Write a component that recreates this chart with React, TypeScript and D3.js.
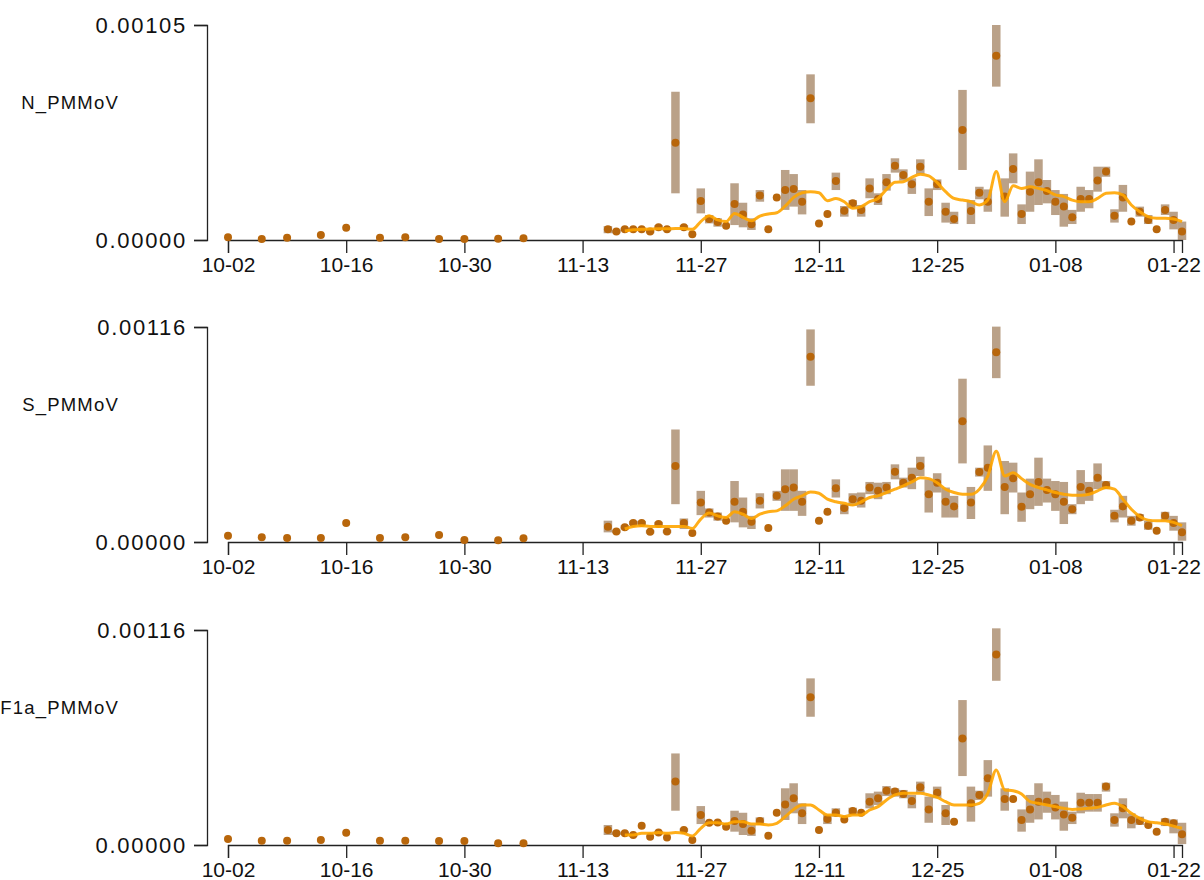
import React, { useEffect, useRef } from "react";
import * as d3 from "d3";

// ---------- data ----------
const earlyDates = ["2020-10-02","2020-10-06","2020-10-09","2020-10-13","2020-10-16","2020-10-20","2020-10-23","2020-10-27","2020-10-30","2020-11-03","2020-11-06"];
const denseStart = "2020-11-16";
const denseEnd = "2021-01-24"; // exclusive
const domainStart = "2020-10-02";
const domainEnd = "2021-01-23";

const panelLabels = ["N_PMMoV", "S_PMMoV", "F1a_PMMoV"];
const yMaxes = [0.00105, 0.00116, 0.00116];

const nEarly = [1.3e-5, 5e-6, 1.1e-5, 2.4e-5, 6.0e-5, 1.1e-5, 1.3e-5, 5e-6, 5e-6, 6e-6, 8e-6];
const sEarly = [3.4e-5, 2.5e-5, 2.1e-5, 2.1e-5, 1.02e-4, 2.1e-5, 2.5e-5, 3.8e-5, 1.1e-5, 1e-5, 2e-5];
const fEarly = [3.2e-5, 2.3e-5, 2.3e-5, 2.7e-5, 6.6e-5, 2.3e-5, 2.3e-5, 2.1e-5, 2.1e-5, 1e-5, 1e-5];

const nValues = [5.2e-5, 4.1e-5, 5.2e-5, 5.2e-5, 5.2e-5, 4.1e-5, 6.2e-5, 5.2e-5, 4.75e-4, 6.2e-5,
 2.8e-5, 1.9e-4, 1.03e-4, 8.8e-5, 7.0e-5, 1.76e-4, 1.25e-4, 7.7e-5, 2.17e-4, 5.2e-5,
 2.08e-4, 2.44e-4, 2.49e-4, 1.87e-4, 6.92e-4, 8.1e-5, 1.27e-4, 2.88e-4, 1.43e-4, 1.79e-4,
 1.47e-4, 2.52e-4, 2.0e-4, 2.82e-4, 3.63e-4, 3.17e-4, 2.72e-4, 3.58e-4, 1.87e-4, 2.72e-4,
 1.38e-4, 1.03e-4, 5.37e-4, 1.42e-4, 2.31e-4, 1.87e-4, 9.0e-4, 2.12e-4, 3.47e-4, 1.27e-4,
 2.36e-4, 2.82e-4, 2.39e-4, 1.87e-4, 1.63e-4, 1.11e-4, 2.0e-4, 2.0e-4, 2.9e-4, 3.34e-4,
 1.19e-4, 2.07e-4, 9.0e-5, 1.38e-4, 9.8e-5, 5.2e-5, 1.47e-4, 9.8e-5, 4.1e-5];
const nLo = [3.3e-5, 3.3e-5, 4.4e-5, 4.4e-5, 4.4e-5, 3.3e-5, 5.2e-5, 4.4e-5, 2.28e-4, 5.2e-5,
 2.8e-5, 1.30e-4, 8.1e-5, 6.5e-5, 7.0e-5, 7.3e-5, 6.2e-5, 4.9e-5, 1.87e-4, 5.2e-5,
 2.08e-4, 1.47e-4, 1.63e-4, 1.25e-4, 5.70e-4, 8.1e-5, 1.27e-4, 2.44e-4, 1.14e-4, 1.55e-4,
 1.14e-4, 2.04e-4, 1.71e-4, 2.41e-4, 3.29e-4, 2.9e-4, 2.25e-4, 3.22e-4, 1.17e-4, 2.44e-4,
 8.5e-5, 7.8e-5, 3.42e-4, 7.8e-5, 1.99e-4, 1.38e-4, 7.49e-4, 1.14e-4, 2.77e-4, 7.8e-5,
 1.38e-4, 1.71e-4, 1.79e-4, 1.22e-4, 6.5e-5, 7.8e-5, 1.38e-4, 1.55e-4, 2.36e-4, 3.09e-4,
 8.5e-5, 1.38e-4, 9.0e-5, 1.14e-4, 7.8e-5, 5.2e-5, 1.22e-4, 5.2e-5, 0];
const nHi = [6.8e-5, 4.9e-5, 6.0e-5, 6.0e-5, 6.0e-5, 4.9e-5, 7.2e-5, 6.0e-5, 7.24e-4, 7.2e-5,
 2.8e-5, 2.52e-4, 1.22e-4, 1.06e-4, 7.0e-5, 2.77e-4, 1.82e-4, 1.06e-4, 2.44e-4, 5.2e-5,
 2.08e-4, 3.42e-4, 3.22e-4, 2.44e-4, 8.09e-4, 8.1e-5, 1.27e-4, 3.29e-4, 1.66e-4, 1.95e-4,
 1.71e-4, 3.01e-4, 2.28e-4, 3.22e-4, 3.99e-4, 3.45e-4, 3.01e-4, 3.94e-4, 2.52e-4, 2.96e-4,
 1.82e-4, 1.38e-4, 7.33e-4, 1.95e-4, 2.6e-4, 2.47e-4, 1.05e-3, 3.01e-4, 4.23e-4, 1.74e-4,
 3.34e-4, 3.94e-4, 2.93e-4, 2.44e-4, 2.25e-4, 1.47e-4, 2.6e-4, 2.44e-4, 3.58e-4, 3.58e-4,
 1.5e-4, 2.69e-4, 9.0e-5, 1.63e-4, 1.22e-4, 5.2e-5, 1.74e-4, 1.38e-4, 9.0e-5];
const nSmooth = [null, null, 4.4e-5, 5.0e-5, 5.2e-5, 5.4e-5, 5.5e-5, 5.5e-5, 5.6e-5, 5.6e-5,
 5.2e-5, 9.0e-5, 1.19e-4, 9.8e-5, 9.0e-5, 1.30e-4, 1.11e-4, 9.4e-5, 1.17e-4, 1.27e-4,
 1.33e-4, 1.66e-4, 2.08e-4, 2.31e-4, 2.36e-4, 2.31e-4, 1.92e-4, 2.03e-4, 1.87e-4, 1.55e-4,
 1.63e-4, 1.87e-4, 2.03e-4, 2.47e-4, 2.82e-4, 2.85e-4, 3.06e-4, 3.21e-4, 3.13e-4, 2.8e-4,
 2.36e-4, 2.03e-4, 1.95e-4, 1.87e-4, 1.71e-4, 1.95e-4, 3.34e-4, 1.87e-4, 2.65e-4, 2.52e-4,
 2.6e-4, 2.52e-4, 2.41e-4, 2.2e-4, 2.12e-4, 1.95e-4, 1.87e-4, 1.87e-4, 2.03e-4, 2.28e-4,
 2.31e-4, 2.2e-4, 1.71e-4, 1.38e-4, 1.14e-4, 1.06e-4, 1.06e-4, 1.03e-4, 9.0e-5];

const sValues = [8.2e-5, 5.7e-5, 7.9e-5, 1.02e-4, 1.02e-4, 5.5e-5, 9.7e-5, 5.7e-5, 4.10e-4, 1.02e-4,
 4.8e-5, 2.13e-4, 1.59e-4, 1.38e-4, 1.15e-4, 2.17e-4, 1.63e-4, 1.09e-4, 2.22e-4, 7.5e-5,
 2.49e-4, 2.85e-4, 2.94e-4, 2.17e-4, 1.0e-3, 1.15e-4, 1.63e-4, 2.9e-4, 1.83e-4, 2.31e-4,
 2.22e-4, 2.94e-4, 2.76e-4, 2.94e-4, 3.79e-4, 3.2e-4, 3.47e-4, 4.1e-4, 2.58e-4, 3.2e-4,
 2.17e-4, 1.92e-4, 6.52e-4, 2.13e-4, 3.78e-4, 4.01e-4, 1.024e-3, 2.97e-4, 3.44e-4, 1.9e-4,
 2.58e-4, 3.24e-4, 2.81e-4, 2.58e-4, 2.17e-4, 1.77e-4, 2.97e-4, 2.76e-4, 3.47e-4, 3.08e-4,
 1.41e-4, 1.92e-4, 1.15e-4, 1.32e-4, 8.8e-5, 6.1e-5, 1.41e-4, 1.02e-4, 5.2e-5];
const sLo = [5.2e-5, 4.8e-5, 6.8e-5, 9.0e-5, 9.0e-5, 4.6e-5, 8.5e-5, 4.8e-5, 2.04e-4, 7.0e-5,
 4.8e-5, 1.45e-4, 1.32e-4, 1.15e-4, 1.15e-4, 1.06e-4, 7.9e-5, 7.0e-5, 1.81e-4, 7.5e-5,
 2.22e-4, 1.68e-4, 1.68e-4, 1.41e-4, 8.43e-4, 1.15e-4, 1.63e-4, 2.4e-4, 1.5e-4, 1.95e-4,
 1.86e-4, 2.58e-4, 2.31e-4, 2.58e-4, 3.38e-4, 2.94e-4, 2.85e-4, 3.56e-4, 1.59e-4, 2.67e-4,
 1.32e-4, 1.32e-4, 4.24e-4, 1.24e-4, 3.53e-4, 2.76e-4, 8.84e-4, 1.5e-4, 2.67e-4, 1.09e-4,
 1.77e-4, 1.95e-4, 2.13e-4, 1.68e-4, 9.7e-5, 1.5e-4, 2.04e-4, 2.22e-4, 2.85e-4, 2.85e-4,
 1.06e-4, 1.32e-4, 8.8e-5, 1.15e-4, 6.6e-5, 6.1e-5, 1.15e-4, 6.1e-5, 7e-6];
const sHi = [1.15e-4, 6.6e-5, 9.0e-5, 1.14e-4, 1.14e-4, 6.4e-5, 1.09e-4, 6.6e-5, 6.07e-4, 1.27e-4,
 4.8e-5, 2.76e-4, 1.81e-4, 1.59e-4, 1.15e-4, 3.29e-4, 2.4e-4, 1.41e-4, 2.63e-4, 7.5e-5,
 2.76e-4, 3.92e-4, 3.92e-4, 2.76e-4, 1.147e-3, 1.15e-4, 1.63e-4, 3.38e-4, 2.04e-4, 2.63e-4,
 2.67e-4, 3.24e-4, 3.2e-4, 3.24e-4, 4.19e-4, 3.47e-4, 4.01e-4, 4.6e-4, 3.38e-4, 3.71e-4,
 2.94e-4, 2.49e-4, 8.81e-4, 2.97e-4, 4.01e-4, 5.21e-4, 1.162e-3, 4.37e-4, 4.28e-4, 2.67e-4,
 3.42e-4, 4.55e-4, 3.42e-4, 3.29e-4, 3.24e-4, 2.04e-4, 3.88e-4, 3.24e-4, 4.24e-4, 3.29e-4,
 1.74e-4, 2.49e-4, 1.41e-4, 1.5e-4, 1.15e-4, 6.1e-5, 1.63e-4, 1.41e-4, 1.06e-4];
const sSmooth = [null, null, 7.0e-5, 8.4e-5, 8.8e-5, 8.4e-5, 8.4e-5, 8.4e-5, 8.4e-5, 8.4e-5,
 7.3e-5, 1.24e-4, 1.56e-4, 1.41e-4, 1.32e-4, 1.63e-4, 1.5e-4, 1.27e-4, 1.5e-4, 1.63e-4,
 1.68e-4, 1.95e-4, 2.31e-4, 2.49e-4, 2.7e-4, 2.63e-4, 2.31e-4, 2.17e-4, 2.09e-4, 1.99e-4,
 2.17e-4, 2.4e-4, 2.49e-4, 2.67e-4, 2.85e-4, 3.03e-4, 3.24e-4, 3.47e-4, 3.42e-4, 3.2e-4,
 2.85e-4, 2.67e-4, 2.58e-4, 2.58e-4, 2.85e-4, 3.56e-4, 4.9e-4, 3.56e-4, 3.74e-4, 3.42e-4,
 3.11e-4, 2.94e-4, 2.81e-4, 2.67e-4, 2.58e-4, 2.52e-4, 2.52e-4, 2.58e-4, 2.76e-4, 2.94e-4,
 2.85e-4, 2.31e-4, 1.77e-4, 1.38e-4, 1.18e-4, 1.15e-4, 1.15e-4, 1.06e-4, 8.8e-5];

const fValues = [8.1e-5, 6.3e-5, 6.3e-5, 5.4e-5, 1.04e-4, 4.5e-5, 6.7e-5, 4.0e-5, 3.42e-4, 8.1e-5,
 2.7e-5, 1.62e-4, 1.2e-4, 1.22e-4, 9.9e-5, 1.29e-4, 1.13e-4, 7.7e-5, 1.29e-4, 5.0e-5,
 1.74e-4, 2.19e-4, 2.52e-4, 1.71e-4, 7.97e-4, 8.1e-5, 1.4e-4, 1.74e-4, 1.38e-4, 1.83e-4,
 1.74e-4, 2.34e-4, 2.52e-4, 2.93e-4, 2.88e-4, 2.75e-4, 2.37e-4, 3.11e-4, 1.92e-4, 2.82e-4,
 1.71e-4, 1.26e-4, 5.75e-4, 2.25e-4, 2.7e-4, 3.6e-4, 1.028e-3, 2.48e-4, 2.48e-4, 1.35e-4,
 1.92e-4, 2.34e-4, 2.34e-4, 2.03e-4, 1.65e-4, 1.47e-4, 2.28e-4, 2.28e-4, 2.28e-4, 3.15e-4,
 1.35e-4, 1.98e-4, 1.35e-4, 1.29e-4, 1.08e-4, 7.2e-5, 1.26e-4, 1.17e-4, 5.8e-5];
const fLo = [5.4e-5, 5.4e-5, 5.4e-5, 4.5e-5, 1.04e-4, 4.5e-5, 5.8e-5, 4.0e-5, 1.85e-4, 7.2e-5,
 2.7e-5, 1.13e-4, 1.1e-4, 1.1e-4, 9.9e-5, 7.2e-5, 5.4e-5, 4.9e-5, 1.08e-4, 5.0e-5,
 1.74e-4, 1.35e-4, 1.71e-4, 1.13e-4, 6.92e-4, 8.1e-5, 1.13e-4, 1.53e-4, 1.38e-4, 1.62e-4,
 1.74e-4, 1.98e-4, 2.16e-4, 2.64e-4, 2.61e-4, 2.52e-4, 1.98e-4, 2.79e-4, 1.2e-4, 2.52e-4,
 1.08e-4, 1.26e-4, 3.72e-4, 1.26e-4, 2.43e-4, 2.61e-4, 8.86e-4, 1.85e-4, 2.48e-4, 7.2e-5,
 1.2e-4, 1.38e-4, 1.74e-4, 1.38e-4, 7.7e-5, 1.13e-4, 1.71e-4, 1.8e-4, 1.8e-4, 2.88e-4,
 9.9e-5, 1.44e-4, 9.0e-5, 1.08e-4, 1.08e-4, 7.2e-5, 1.02e-4, 6.3e-5, 5e-6];
const fHi = [1.08e-4, 7.2e-5, 7.2e-5, 6.3e-5, 1.04e-4, 4.5e-5, 7.6e-5, 4.0e-5, 4.94e-4, 9.0e-5,
 2.7e-5, 2.1e-4, 1.3e-4, 1.3e-4, 9.9e-5, 1.85e-4, 1.74e-4, 1.08e-4, 1.49e-4, 5.0e-5,
 1.74e-4, 3.06e-4, 3.33e-4, 2.25e-4, 8.99e-4, 8.1e-5, 1.65e-4, 1.98e-4, 1.38e-4, 2.01e-4,
 1.74e-4, 2.79e-4, 2.88e-4, 3.18e-4, 3.06e-4, 2.97e-4, 2.7e-4, 3.42e-4, 2.61e-4, 3.15e-4,
 2.16e-4, 1.26e-4, 7.82e-4, 3.15e-4, 2.93e-4, 4.58e-4, 1.169e-3, 3.06e-4, 2.48e-4, 1.92e-4,
 2.7e-4, 3.33e-4, 2.88e-4, 2.7e-4, 2.34e-4, 1.8e-4, 2.82e-4, 2.75e-4, 2.75e-4, 3.36e-4,
 1.71e-4, 2.52e-4, 1.71e-4, 1.53e-4, 1.08e-4, 7.2e-5, 1.44e-4, 1.38e-4, 1.2e-4];
const fSmooth = [null, null, 5.4e-5, 5.4e-5, 6.3e-5, 6.3e-5, 6.7e-5, 6.3e-5, 6.7e-5, 6.3e-5,
 4.9e-5, 9.0e-5, 1.2e-4, 1.2e-4, 1.13e-4, 1.26e-4, 1.26e-4, 1.13e-4, 1.13e-4, 1.08e-4,
 1.17e-4, 1.53e-4, 1.92e-4, 2.16e-4, 2.16e-4, 1.89e-4, 1.62e-4, 1.62e-4, 1.53e-4, 1.62e-4,
 1.62e-4, 1.89e-4, 2.07e-4, 2.43e-4, 2.7e-4, 2.79e-4, 2.79e-4, 2.79e-4, 2.7e-4, 2.57e-4,
 2.34e-4, 2.16e-4, 2.16e-4, 2.16e-4, 2.25e-4, 2.79e-4, 4.05e-4, 2.97e-4, 2.93e-4, 2.75e-4,
 2.34e-4, 2.25e-4, 2.16e-4, 2.07e-4, 1.98e-4, 1.92e-4, 1.94e-4, 1.98e-4, 2.03e-4, 2.16e-4,
 2.25e-4, 2.07e-4, 1.71e-4, 1.44e-4, 1.26e-4, 1.2e-4, 1.13e-4, 1.02e-4, 9.0e-5];

const panelsData = [
  { early: nEarly, values: nValues, lo: nLo, hi: nHi, smooth: nSmooth },
  { early: sEarly, values: sValues, lo: sLo, hi: sHi, smooth: sSmooth },
  { early: fEarly, values: fValues, lo: fLo, hi: fHi, smooth: fSmooth },
];

// ---------- layout ----------
const W = 1204, H = 880;
const panelTops = [25, 327, 630];
const panelHeight = 215;
const xLeft = 228, xRight = 1182, yAxisX = 207;
const FONT = "'Liberation Sans', Arial, Helvetica, sans-serif";
const DOT = "#b8660b";
const BAR = "#8c6239";
const LINE = "#ffa500";

export default function App() {
  const ref = useRef<SVGSVGElement>(null);
  useEffect(() => {
    const svg = d3.select(ref.current);
    svg.selectAll("*").remove();
    const parse = (s: string) => new Date(s + "T00:00:00Z");
    const x = d3.scaleUtc().domain([parse(domainStart), parse(domainEnd)]).range([xLeft, xRight]);
    const dense = d3.utcDay.range(parse(denseStart), parse(denseEnd));
    const early = earlyDates.map(parse);
    const tickVals = d3.utcDay.range(parse(domainStart), parse(domainEnd), 14);
    const fmt = d3.utcFormat("%m-%d");

    panelsData.forEach((pd, p) => {
      const top = panelTops[p];
      const bottom = top + panelHeight;
      const y = d3.scaleLinear().domain([0, yMaxes[p]]).range([bottom, top]);
      const g = svg.append("g");

      // y axis
      const ya = g.append("g").attr("transform", `translate(${yAxisX},0)`)
        .call(d3.axisLeft(y).tickValues([0, yMaxes[p]]).tickFormat(d3.format(".5f")).tickSize(13).tickSizeOuter(13).tickPadding(7));
      ya.selectAll("path,line").attr("stroke", "#222").attr("stroke-width", 1.3);
      ya.selectAll("text").attr("font-size", 22).attr("font-family", FONT).attr("fill", "#111").attr("letter-spacing", "1.7px");

      // x axis
      const xa = g.append("g").attr("transform", `translate(0,${bottom})`)
        .call(d3.axisBottom(x).tickValues(tickVals).tickFormat(fmt as any).tickSize(13).tickSizeOuter(13).tickPadding(4));
      xa.selectAll("path,line").attr("stroke", "#222").attr("stroke-width", 1.3);
      xa.selectAll("text").attr("font-size", 21).attr("font-family", FONT).attr("fill", "#111");

      // label
      g.append("text").attr("x", 119).attr("y", top + 84).attr("text-anchor", "end")
        .attr("font-size", 18.5).attr("font-family", FONT).attr("letter-spacing", "1.2px").attr("fill", "#111")
        .text(panelLabels[p]);

      // error bars
      const bw = 8.5;
      g.append("g").selectAll("rect").data(dense).join("rect")
        .attr("x", (d) => x(d) - bw / 2)
        .attr("y", (_, i) => y(pd.hi[i]))
        .attr("width", bw)
        .attr("height", (_, i) => Math.max(0, y(pd.lo[i]) - y(pd.hi[i])))
        .attr("fill", BAR).attr("fill-opacity", 0.6);

      // dots
      g.append("g").selectAll("circle.e").data(early).join("circle")
        .attr("cx", (d) => x(d)).attr("cy", (_, i) => y(pd.early[i])).attr("r", 4).attr("fill", DOT);
      g.append("g").selectAll("circle.d").data(dense).join("circle")
        .attr("cx", (d) => x(d)).attr("cy", (_, i) => y(pd.values[i])).attr("r", 4).attr("fill", DOT);

      // smooth line
      const line = d3.line<number>()
        .defined((_, i) => pd.smooth[i] != null)
        .x((_, i) => x(dense[i]))
        .y((_, i) => y(pd.smooth[i] as number))
        .curve(d3.curveMonotoneX);
      g.append("path").datum(pd.smooth.map((v) => (v == null ? 0 : v)))
        .attr("d", line as any).attr("fill", "none").attr("stroke", LINE)
        .attr("stroke-width", 3).attr("stroke-opacity", 0.9);
    });
  }, []);
  return (
    <svg ref={ref} width={W} height={H} style={{ position: "absolute", left: 0, top: 0, background: "#fff" }} />
  );
}
